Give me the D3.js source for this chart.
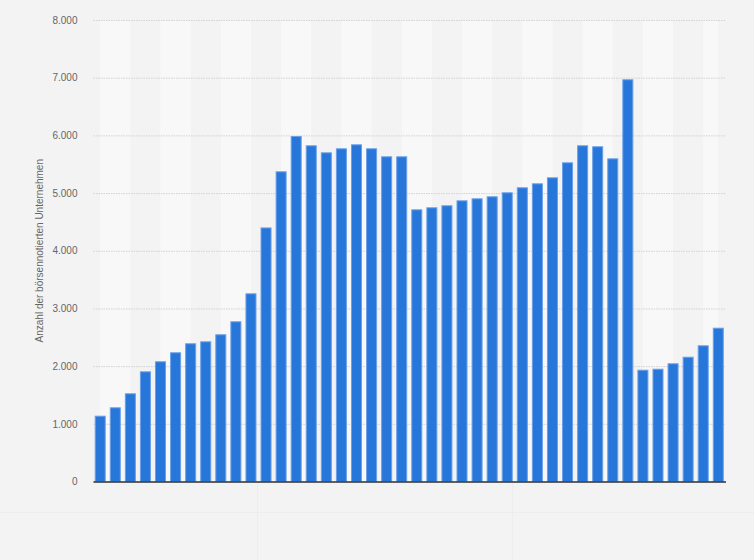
<!DOCTYPE html>
<html>
<head>
<meta charset="utf-8">
<script src="https://cdn.jsdelivr.net/npm/d3@7"></script>
<style>
  html, body { margin: 0; padding: 0; background: #f3f3f3; }
  svg { display: block; font-family: "Liberation Sans", Arial, sans-serif; }
</style>
</head>
<body>
<div id="chart"></div>
<script>
// bar values (no year labels shown in the reference)
const categories = d3.range(1, 43).map(i => 'B' + i);
const values = [
  1141, 1286, 1529, 1910, 2084, 2240, 2396, 2430, 2552, 2777,
  3262, 4404, 5377, 5989, 5828, 5706, 5776, 5845, 5776, 5637,
  5637, 4718, 4753, 4788, 4874, 4909, 4944, 5013, 5100, 5169,
  5273, 5533, 5828, 5811, 5602, 6972, 1938, 1955, 2049, 2163,
  2361, 2666
];
const yTicks = [0, 1000, 2000, 3000, 4000, 5000, 6000, 7000, 8000];
const yTitle = 'Anzahl der börsennotierten Unternehmen';

const width = 754, height = 560;
const margin = {top: 20, right: 29, bottom: 78.5, left: 93.5};

const svg = d3.select('#chart').append('svg')
  .attr('width', width).attr('height', height);

svg.append('rect').attr('width', width).attr('height', height).attr('fill', '#f3f3f3');

// faint footer lines
svg.append('line').attr('x1', 0).attr('x2', width).attr('y1', 512.5).attr('y2', 512.5)
  .attr('stroke', '#ededed');
[257.5, 512.5].forEach(x => {
  svg.append('line').attr('x1', x).attr('x2', x).attr('y1', 483).attr('y2', height)
    .attr('stroke', '#ededed');
});

const x = d3.scaleBand()
  .domain(categories)
  .range([margin.left, width - margin.right])
  .paddingInner(0.27)
  .paddingOuter(0.08);

const y = d3.scaleLinear()
  .domain([0, 8000])
  .range([height - margin.bottom, margin.top]);

// alternating column stripes, two bands wide, from first to last bar centre
const centre = c => x(c) + x.bandwidth() / 2;
const stripes = d3.range(0, categories.length - 1, 4).map(i => ({
  x0: centre(categories[i]),
  x1: centre(categories[Math.min(i + 2, categories.length - 1)])
}));
svg.append('g').selectAll('rect').data(stripes).enter().append('rect')
  .attr('x', d => d.x0)
  .attr('width', d => d.x1 - d.x0)
  .attr('y', margin.top)
  .attr('height', y(0) - margin.top)
  .attr('fill', '#f8f8f8');

// grid + tick labels
const yAxis = svg.append('g')
  .attr('transform', `translate(${margin.left},0)`)
  .call(d3.axisLeft(y).tickValues(yTicks)
    .tickSize(-(width - margin.left - margin.right))
    .tickPadding(16)
    .tickFormat(d => d3.format(',')(d).replace(/,/g, '.')));
yAxis.select('.domain').remove();
yAxis.selectAll('.tick line')
  .attr('stroke', '#d2d2d2')
  .attr('stroke-dasharray', '1.5,1');
yAxis.selectAll('.tick text')
  .attr('fill', '#666')
  .style('font-size', '10px');

// bars
svg.append('g').selectAll('rect').data(values).enter().append('rect')
  .attr('x', (d, i) => x(categories[i]) + 0.5)
  .attr('width', x.bandwidth() - 1)
  .attr('y', d => y(d) + 0.5)
  .attr('height', d => y(0) - y(d) - 0.5)
  .attr('fill', '#2776da')
  .attr('stroke', '#6b9fe8')
  .attr('stroke-width', 1);

// baseline
svg.append('line')
  .attr('x1', margin.left).attr('x2', width - margin.right + 1)
  .attr('y1', y(0) + 0.5).attr('y2', y(0) + 0.5)
  .attr('stroke', '#333').attr('stroke-width', 1.5);

// axis title
svg.append('text')
  .attr('transform', `translate(43,${(margin.top + y(0)) / 2}) rotate(-90)`)
  .attr('text-anchor', 'middle')
  .attr('fill', '#666')
  .style('font-size', '10px')
  .text(yTitle);
</script>
</body>
</html>
